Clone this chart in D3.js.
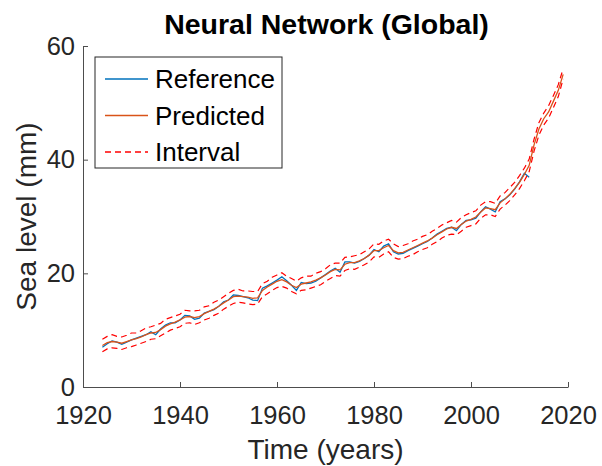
<!DOCTYPE html>
<html>
<head>
<meta charset="utf-8">
<script src="https://cdn.jsdelivr.net/npm/d3@7"></script>
<style>
  body { margin: 0; background: #fff; }
  text { font-family: "Liberation Sans", Arial, sans-serif; fill: #262626; }
</style>
</head>
<body>
<svg width="602" height="466"></svg>
<script>
// sea level (mm), one value per year
const refStart = 1924;
const reference = [
  7.0, 7.6, 8.1, 7.9, 7.5, 7.9, 8.3, 8.6, 8.9, 9.2,
  9.7, 9.2, 10.2, 10.9, 11.3, 11.3, 11.8, 12.6, 12.5, 11.9,
  12.1, 13.0, 13.3, 13.6, 14.2, 15.0, 15.3, 16.2, 16.1, 15.9,
  15.7, 15.3, 15.2, 17.4, 17.8, 18.3, 18.8, 19.4, 18.7, 17.9,
  17.0, 18.4, 18.2, 18.3, 18.6, 19.2, 19.8, 20.4, 20.9, 20.2,
  22.0, 22.0, 21.8, 22.1, 22.6, 23.2, 24.2, 23.8, 24.8, 25.2,
  23.8, 23.4, 23.5, 24.0, 24.4, 24.8, 25.2, 25.6, 26.2, 26.9,
  27.4, 27.9, 28.1, 27.5, 28.6, 29.3, 29.4, 29.7, 30.8, 31.7,
  31.3, 30.8, 32.6, 33.1, 33.8, 34.8, 36.1, 37.6, 36.9
];

const predStart = 1924;
const predicted = [
  7.3, 7.8, 8.0, 7.9, 7.7, 8.0, 8.3, 8.5, 8.8, 9.2,
  9.5, 9.6, 10.1, 10.7, 11.1, 11.4, 11.8, 12.3, 12.4, 12.2,
  12.4, 12.9, 13.3, 13.7, 14.2, 14.8, 15.3, 15.9, 16.0, 15.9,
  15.8, 15.6, 15.7, 17.0, 17.6, 18.1, 18.6, 18.9, 18.5, 17.9,
  17.5, 18.1, 18.3, 18.5, 18.8, 19.2, 19.7, 20.3, 20.7, 20.6,
  21.6, 21.9, 21.9, 22.2, 22.6, 23.2, 24.0, 24.0, 24.5, 24.9,
  24.0, 23.6, 23.7, 24.1, 24.5, 24.9, 25.3, 25.7, 26.2, 26.8,
  27.3, 27.8, 28.1, 27.9, 28.6, 29.2, 29.5, 29.9, 30.8, 31.5,
  31.4, 31.2, 32.4, 33.1, 33.9, 34.9, 36.0, 37.4, 39.0, 42.6,
  45.4, 47.2, 48.4, 50.3, 52.2, 55.0
];

const upper = [
  8.4, 8.9, 9.2, 8.9, 8.8, 9.1, 9.5, 9.5, 9.9, 10.4,
  10.6, 10.9, 11.2, 11.9, 12.2, 12.5, 12.8, 13.5, 13.4, 13.4,
  13.5, 14.1, 14.3, 14.9, 15.3, 15.9, 16.5, 17.0, 17.2, 16.9,
  16.9, 16.8, 16.8, 18.2, 18.6, 19.3, 19.7, 20.1, 19.5, 19.1,
  18.6, 19.2, 19.5, 19.5, 20.0, 20.3, 20.8, 21.5, 21.8, 21.8,
  22.8, 22.9, 23.1, 23.3, 23.8, 24.3, 25.2, 25.1, 25.7, 26.0,
  25.2, 24.7, 24.9, 25.2, 25.7, 26.0, 26.5, 26.8, 27.4, 27.9,
  28.5, 28.9, 29.3, 29.0, 29.8, 30.3, 30.7, 31.0, 32.0, 32.6,
  32.6, 32.3, 33.6, 34.2, 35.1, 36.0, 37.2, 38.5, 40.1, 43.6,
  46.5, 48.2, 49.5, 51.3, 53.2, 56.0
];

const lower = [
  6.2, 6.7, 6.9, 6.8, 6.6, 6.9, 7.1, 7.4, 7.7, 8.0,
  8.4, 8.5, 9.0, 9.5, 10.0, 10.3, 10.6, 11.2, 11.3, 11.0,
  11.3, 11.8, 12.1, 12.6, 13.0, 13.7, 14.2, 14.7, 14.9, 14.8,
  14.6, 14.5, 14.6, 15.9, 16.4, 17.0, 17.5, 17.7, 17.4, 16.8,
  16.4, 17.0, 17.1, 17.4, 17.7, 18.0, 18.6, 19.1, 19.6, 19.5,
  20.5, 20.8, 20.7, 21.1, 21.5, 22.0, 22.9, 22.8, 23.4, 23.8,
  22.8, 22.5, 22.6, 23.0, 23.3, 23.8, 24.2, 24.5, 25.1, 25.6,
  26.2, 26.7, 26.9, 26.8, 27.4, 28.1, 28.4, 28.7, 29.7, 30.3,
  30.3, 30.0, 31.3, 32.0, 32.8, 33.8, 34.9, 36.3, 37.9, 41.5,
  44.3, 46.1, 47.3, 49.2, 51.1, 54.2
];

const xTicks = [1920, 1940, 1960, 1980, 2000, 2020];
const yTicks = [0, 20, 40, 60];
const legendLabels = ['Reference', 'Predicted', 'Interval'];

const colors = {
  reference: 'rgb(0, 114, 189)',
  predicted: 'rgb(217, 83, 25)',
  interval: 'rgb(255, 0, 0)'
};

const svg = d3.select('svg');
const mLeft = 83, mRight = 568, mTop = 46, mBottom = 387;

const x = d3.scaleLinear().domain([1920, 2020]).range([mLeft, mRight]);
const y = d3.scaleLinear().domain([0, 60]).range([mBottom, mTop]);

const axisColor = '#4d4d4d';

// axes, ticks pointing inward like matlab
const xAxis = svg.append('g')
  .attr('transform', `translate(0, ${mBottom})`)
  .call(d3.axisBottom(x).tickValues(xTicks).tickFormat(d3.format('d')).tickSizeInner(-5).tickSizeOuter(0).tickPadding(19));
xAxis.select('.domain').attr('stroke', axisColor);
xAxis.selectAll('.tick line').attr('stroke', axisColor);
xAxis.selectAll('.tick text')
  .attr('font-size', 25.5)
  .attr('font-family', '"Liberation Sans", Arial, sans-serif')
  .attr('fill', '#262626');

const yAxis = svg.append('g')
  .attr('transform', `translate(${mLeft}, 0)`)
  .call(d3.axisLeft(y).tickValues(yTicks).tickSizeInner(-5).tickSizeOuter(0).tickPadding(8));
yAxis.select('.domain').attr('stroke', axisColor);
yAxis.selectAll('.tick line').attr('stroke', axisColor);
yAxis.selectAll('.tick text')
  .attr('font-size', 25.5)
  .attr('font-family', '"Liberation Sans", Arial, sans-serif')
  .attr('fill', '#262626');

const toPoints = (vals, start) => vals.map((v, i) => [start + i, v]);
const line = d3.line().x(d => x(d[0])).y(d => y(d[1]));

const plot = svg.append('g').attr('fill', 'none');

plot.append('path')
  .datum(toPoints(reference, refStart))
  .attr('d', line)
  .style('stroke', colors.reference)
  .style('stroke-width', 1.3);

plot.append('path')
  .datum(toPoints(predicted, predStart))
  .attr('d', line)
  .style('stroke', colors.predicted)
  .style('stroke-width', 1.3);

[upper, lower].forEach(b => {
  plot.append('path')
    .datum(toPoints(b, predStart))
    .attr('d', line)
    .style('stroke', colors.interval)
    .style('stroke-width', 1.2)
    .style('stroke-dasharray', '6,4');
});

// title and axis labels
svg.append('text')
  .attr('x', (mLeft + mRight) / 2 + 1)
  .attr('y', 34)
  .attr('text-anchor', 'middle')
  .attr('font-size', 28.5)
  .attr('font-weight', 'bold')
  .style('fill', '#000')
  .text('Neural Network (Global)');

svg.append('text')
  .attr('x', (mLeft + mRight) / 2)
  .attr('y', 459)
  .attr('text-anchor', 'middle')
  .attr('font-size', 28)
  .text('Time (years)');

svg.append('text')
  .attr('transform', `translate(36, ${(mTop + mBottom) / 2}) rotate(-90)`)
  .attr('text-anchor', 'middle')
  .attr('font-size', 28)
  .text('Sea level (mm)');

// legend
const legend = svg.append('g').attr('transform', 'translate(95, 57)');
legend.append('rect')
  .attr('width', 187).attr('height', 111)
  .attr('fill', '#fff')
  .attr('stroke', '#262626')
  .attr('stroke-width', 1);

const legendStyles = [
  { color: colors.reference, dash: 'none' },
  { color: colors.predicted, dash: 'none' },
  { color: colors.interval, dash: '6,4' }
];

legendLabels.forEach((lab, i) => {
  const ly = 22 + i * 36.5;
  legend.append('line')
    .attr('x1', 10).attr('x2', 53)
    .attr('y1', ly).attr('y2', ly)
    .style('stroke', legendStyles[i].color)
    .style('stroke-width', 1.3)
    .style('stroke-dasharray', legendStyles[i].dash);
  legend.append('text')
    .attr('x', 60)
    .attr('y', ly + 9)
    .attr('font-size', 26)
    .style('fill', '#000')
    .text(lab);
});
</script>
</body>
</html>
